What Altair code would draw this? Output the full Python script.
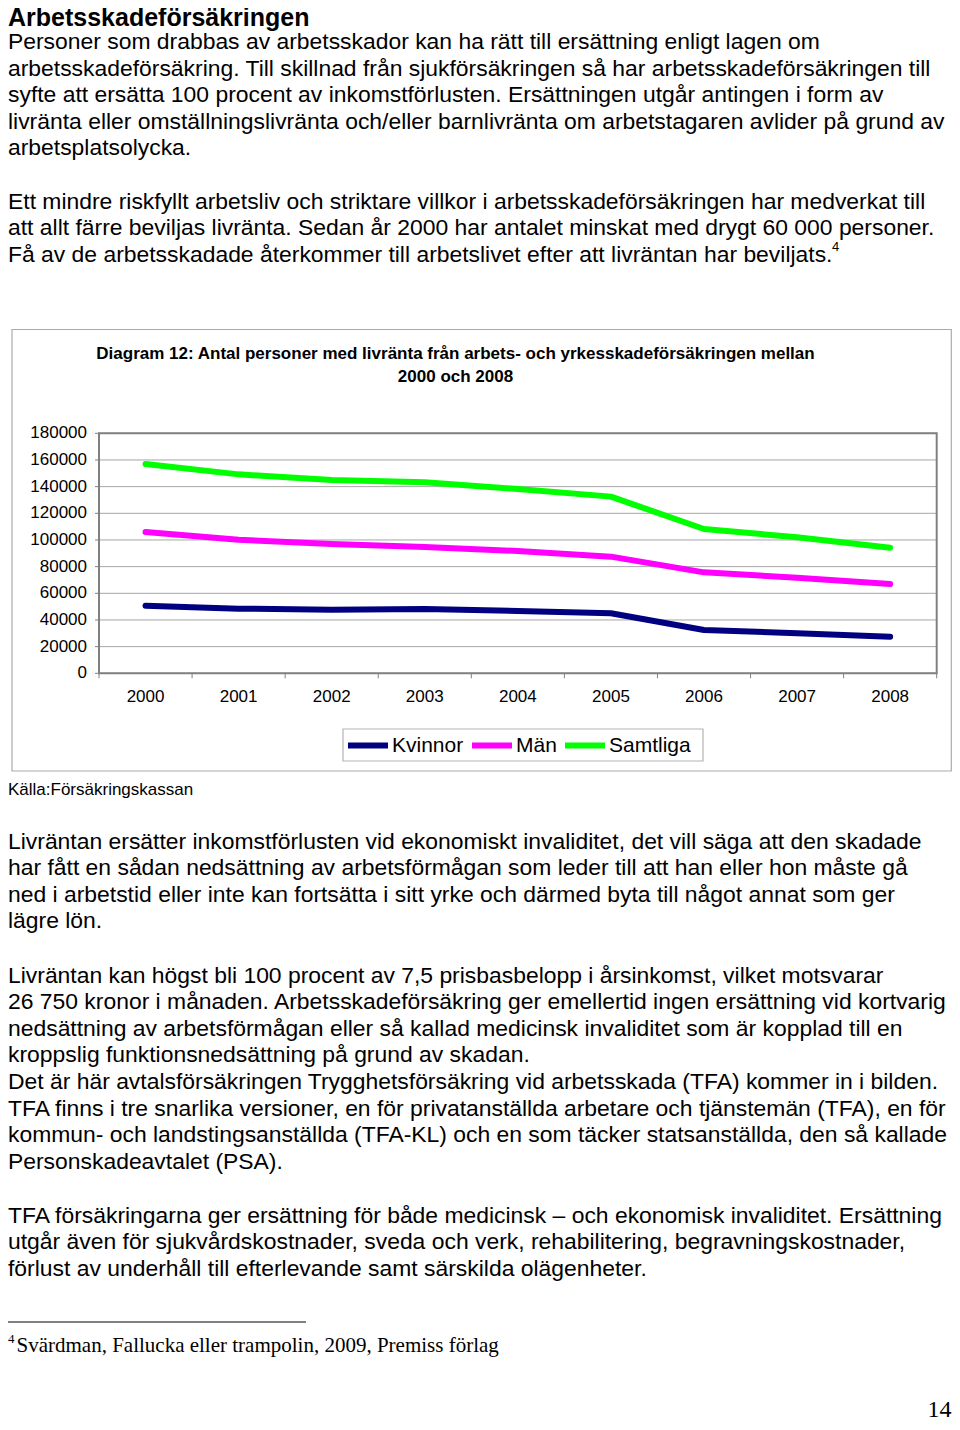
import altair as alt
import pandas as pd

# ---------------- data ----------------
years = ["2000", "2001", "2002", "2003", "2004", "2005", "2006", "2007", "2008"]
kvinnor = [50700, 48500, 47700, 48200, 46700, 45000, 32500, 30000, 27500]
man = [106000, 100200, 97000, 94700, 91700, 87500, 75700, 71700, 67000]
samtliga = [157000, 149200, 145000, 143200, 138200, 132500, 108200, 102000, 94200]
series_names = ["Kvinnor", "Män", "Samtliga"]
series_colors = ["#000080", "#ff00ff", "#00ff00"]
y_ticks = [0, 20000, 40000, 60000, 80000, 100000, 120000, 140000, 160000, 180000]

heading = "Arbetsskadeförsäkringen"
para1 = [
    "Personer som drabbas av arbetsskador kan ha rätt till ersättning enligt lagen om",
    "arbetsskadeförsäkring. Till skillnad från sjukförsäkringen så har arbetsskadeförsäkringen till",
    "syfte att ersätta 100 procent av inkomstförlusten. Ersättningen utgår antingen i form av",
    "livränta eller omställningslivränta och/eller barnlivränta om arbetstagaren avlider på grund av",
    "arbetsplatsolycka.",
]
para2 = [
    "Ett mindre riskfyllt arbetsliv och striktare villkor i arbetsskadeförsäkringen har medverkat till",
    "att allt färre beviljas livränta. Sedan år 2000 har antalet minskat med drygt 60 000 personer.",
    "Få av de arbetsskadade återkommer till arbetslivet efter att livräntan har beviljats.",
]
chart_title = [
    "Diagram 12: Antal personer med livränta från arbets- och yrkesskadeförsäkringen mellan",
    "2000 och 2008",
]
source = "Källa:Försäkringskassan"
para3 = [
    "Livräntan ersätter inkomstförlusten vid ekonomiskt invaliditet, det vill säga att den skadade",
    "har fått en sådan nedsättning av arbetsförmågan som leder till att han eller hon måste gå",
    "ned i arbetstid eller inte kan fortsätta i sitt yrke och därmed byta till något annat som ger",
    "lägre lön.",
]
para4 = [
    "Livräntan kan högst bli 100 procent av 7,5 prisbasbelopp i årsinkomst, vilket motsvarar",
    "26 750 kronor i månaden. Arbetsskadeförsäkring ger emellertid ingen ersättning vid kortvarig",
    "nedsättning av arbetsförmågan eller så kallad medicinsk invaliditet som är kopplad till en",
    "kroppslig funktionsnedsättning på grund av skadan.",
    "Det är här avtalsförsäkringen Trygghetsförsäkring vid arbetsskada (TFA) kommer in i bilden.",
    "TFA finns i tre snarlika versioner, en för privatanställda arbetare och tjänstemän (TFA), en för",
    "kommun- och landstingsanställda (TFA-KL) och en som täcker statsanställda, den så kallade",
    "Personskadeavtalet (PSA).",
]
para5 = [
    "TFA försäkringarna ger ersättning för både medicinsk – och ekonomisk invaliditet. Ersättning",
    "utgår även för sjukvårdskostnader, sveda och verk, rehabilitering, begravningskostnader,",
    "förlust av underhåll till efterlevande samt särskilda olägenheter.",
]
footnote_mark = "4"
footnote = "Svärdman, Fallucka eller trampolin, 2009, Premiss förlag"
page_number = "14"

# ---------------- layout helpers ----------------
OX, OY = 8, 8
W, H = 944, 1414
SANS = "Liberation Sans"
SERIF = "Liberation Serif"


def px(x):
    return x - OX


def py(y):
    return y - OY


one = pd.DataFrame({"k": [0]})


def text_block(lines, x, y, size, weight="normal", font=SANS, align="left", lh=26.6):
    return alt.Chart(one).mark_text(
        text=lines, fontSize=size, fontWeight=weight, font=font, align=align,
        baseline="alphabetic", lineHeight=lh, color="black",
    ).encode(x=alt.value(x), y=alt.value(y))


BODY = 22.9

line_df = pd.DataFrame({
    "year": years * 3,
    "series": [series_names[0]] * 9 + [series_names[1]] * 9 + [series_names[2]] * 9,
    "value": kvinnor + man + samtliga,
})
tick_df = pd.DataFrame({"tick": y_ticks})
year_df = pd.DataFrame({"year": years})

PL, PR, PT, PB = px(99), px(936.7), py(433.3), py(673.3)

x_point = alt.Scale(type="point", domain=years, range=[PL, PR], padding=0.5)
x_band = alt.Scale(type="band", domain=years, range=[PL, PR], paddingInner=0, paddingOuter=0)
y_scale = alt.Scale(domain=[0, 180000], range=[PB, PT], nice=False, zero=True)

outer_box = alt.Chart(one).mark_rect(fill="white", stroke="#ababab", strokeWidth=1.2).encode(
    x=alt.value(px(12)), x2=alt.value(px(951.3)), y=alt.value(py(329.5)), y2=alt.value(py(771))
)
legend_box = alt.Chart(one).mark_rect(fill="white", stroke="#b4b4b4", strokeWidth=1.2).encode(
    x=alt.value(px(343)), x2=alt.value(px(703)), y=alt.value(py(729)), y2=alt.value(py(761))
)

grid = alt.Chart(tick_df).mark_rule(color="#a6a6a6", strokeWidth=1).encode(
    y=alt.Y("tick:Q", scale=y_scale, axis=None), x=alt.value(PL), x2=alt.value(PR)
)
y_tick_marks = alt.Chart(tick_df).mark_rule(color="#808080", strokeWidth=1).encode(
    y=alt.Y("tick:Q", scale=y_scale, axis=None), x=alt.value(PL - 4), x2=alt.value(PL)
)
frame = alt.Chart(one).mark_rect(fillOpacity=0, stroke="#808080", strokeWidth=2).encode(
    x=alt.value(PL), x2=alt.value(PR), y=alt.value(PT), y2=alt.value(PB)
)
x_tick_marks = alt.Chart(year_df).mark_rule(color="#808080", strokeWidth=1).encode(
    x=alt.X("year:O", scale=x_band, axis=None, bandPosition=0), y=alt.value(PB), y2=alt.value(PB + 5)
)
x_tick_last = alt.Chart(year_df).transform_filter(alt.datum.year == years[-1]).mark_rule(
    color="#808080", strokeWidth=1
).encode(
    x=alt.X("year:O", scale=x_band, axis=None, bandPosition=1), y=alt.value(PB), y2=alt.value(PB + 5)
)
y_labels = alt.Chart(tick_df).mark_text(align="right", baseline="middle", fontSize=17, font=SANS, color="black").encode(
    y=alt.Y("tick:Q", scale=y_scale, axis=None), x=alt.value(px(87)), text=alt.Text("tick:Q", format="d")
)
x_labels = alt.Chart(year_df).mark_text(align="center", baseline="middle", fontSize=17, font=SANS, color="black").encode(
    x=alt.X("year:O", scale=x_point, axis=None), y=alt.value(py(697)), text="year:O"
)
lines = alt.Chart(line_df).mark_line(strokeWidth=6, strokeCap="round", strokeJoin="round").encode(
    x=alt.X("year:O", scale=x_point, axis=None),
    y=alt.Y("value:Q", scale=y_scale, axis=None),
    color=alt.Color(
        "series:N",
        scale=alt.Scale(domain=series_names, range=series_colors),
        sort=series_names,
        legend=alt.Legend(
            orient="none", legendX=px(345), legendY=py(722.5), direction="horizontal",
            title=None, symbolType="stroke", symbolSize=1600, symbolStrokeWidth=6,
            labelFontSize=21, labelFont=SANS, labelColor="black", labelOffset=1,
            columnPadding=-4, padding=0,
        ),
    ),
)

layers = [
    text_block(heading, 0, py(26), 25, weight="bold"),
    text_block(para1, 0, py(49), BODY),
    text_block(para2, 0, py(208.5), BODY),
    text_block(footnote_mark, px(832), py(251), 13),
    outer_box,
    legend_box,
    text_block(chart_title, px(455.5), py(358.5), 17, weight="bold", align="center", lh=23),
    grid, y_tick_marks, frame, x_tick_marks, x_tick_last,
    y_labels, x_labels, lines,
    text_block(source, 0, py(795), 17),
    text_block(para3, 0, py(848.5), BODY),
    text_block(para4, 0, py(982.5), BODY),
    text_block(para5, 0, py(1222.5), BODY),
    text_block(footnote_mark, 0, py(1343), 13, font=SERIF),
    text_block(footnote, px(16.5), py(1352), 21.0, font=SERIF),
    text_block(page_number, px(951.5), py(1417), 24, font=SERIF, align="right"),
]

foot_rule = alt.Chart(one).mark_rule(color="black", strokeWidth=1).encode(
    x=alt.value(0), x2=alt.value(px(306)), y=alt.value(py(1322))
)
layers.append(foot_rule)

chart = alt.layer(*layers).resolve_scale(
    x="independent", y="independent"
).properties(
    width=W, height=H, autosize=alt.AutoSizeParams(type="none"), padding=0,
    background="white",
).configure_view(stroke=None)

chart.save("out.html", embed_options={"renderer": "svg", "actions": False})
